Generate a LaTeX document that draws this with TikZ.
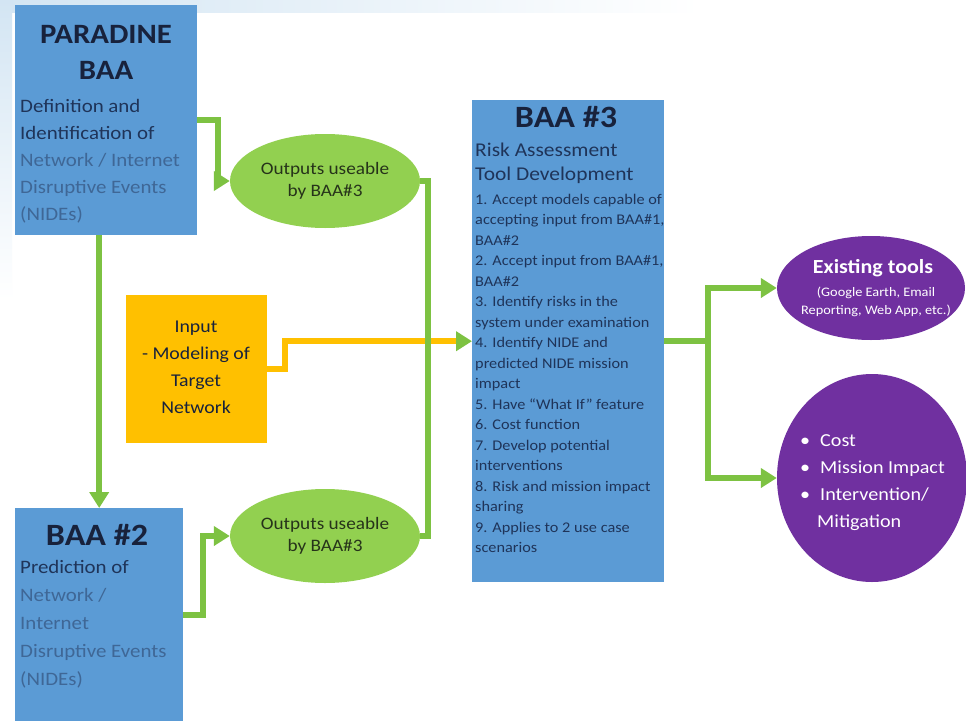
\documentclass[tikz,border=0pt]{standalone}
\usepackage{fontspec}
\setmainfont[FakeStretch=1.1]{Carlito}
\usetikzlibrary{shapes.geometric,arrows.meta,calc}
\definecolor{boxblue}{HTML}{5B9BD5}
\definecolor{navy}{HTML}{18223C}
\definecolor{dnavy}{HTML}{1F3459}
\definecolor{fadeblue}{HTML}{3F6796}
\definecolor{lgreen}{HTML}{92D050}
\definecolor{gline}{HTML}{7DC242}
\definecolor{orng}{HTML}{FFC000}
\definecolor{purp}{HTML}{7030A0}
\definecolor{skyb}{HTML}{D3E5F3}
\definecolor{ovtext}{HTML}{26331A}
\begin{document}
\begin{tikzpicture}[x=1pt,y=-1pt,
  bluebox/.style={draw=none,fill=boxblue,minimum width=#1,inner sep=0pt},
  greenov/.style={ellipse,fill=lgreen,minimum width=190pt,minimum height=94pt,inner sep=0pt},
  purpov/.style={ellipse,fill=purp,inner sep=0pt},
  glink/.style={draw=gline,line width=6pt,line join=miter},
  garrow/.style={glink,-{Triangle[length=16pt,width=19pt]}},
  olink/.style={draw=orng,line width=6pt,line join=miter},
  ttl/.style={font=\fontsize{28}{30}\selectfont\bfseries,text=navy,inner sep=0pt},
  body/.style={font=\fontsize{19}{27}\selectfont,inner sep=0pt,align=left,anchor=north west},
]
\useasboundingbox (0,0) rectangle (966,720);
\fill[white] (0,0) rectangle (966,720);
\shade[left color=skyb,right color=white] (0,0) rectangle (700,12);
\shade[top color=skyb,bottom color=white] (0,0) rectangle (12,300);

% boxes
\node[bluebox=182pt,minimum height=230pt,anchor=north west] (par) at (15,5) {};
\node[bluebox=168pt,minimum height=214pt,anchor=north west] (b2) at (15,508) {};
\node[bluebox=192pt,minimum height=482pt,anchor=north west] (b3) at (472,100) {};
\node[fill=orng,minimum width=141pt,minimum height=148pt,inner sep=0pt,anchor=north west] (inp) at (126,295) {};
\node[greenov] (out1) at (325,181) {};
\node[greenov] (out2) at (325,536) {};
\node[purpov,minimum width=188pt,minimum height=104pt] (ex) at (871,288) {};
\node[purpov,minimum width=190pt,minimum height=208pt] (ci) at (872,478) {};

% PARADINE text
\node[ttl] (parT1) at (106,34) {PARADINE};
\node[ttl] (parT2) at (106,70) {BAA};
\node[body,text=dnavy] (parB1) at (20,99) {Definition and\\Identification of};
\node[body,text=fadeblue] (parB2) at (20,153) {Network / Internet\\Disruptive Events\\(NIDEs)};

% BAA #2 text
\node[ttl,font=\fontsize{31}{32}\selectfont\bfseries] (b2T) at (97,535) {BAA \#2};
\node[body,text=dnavy] (b2B1) at (20,560) {Prediction of};
\node[body,text=fadeblue,font=\fontsize{19}{28}\selectfont] (b2B2) at (20,588) {Network /\\Internet\\Disruptive Events\\(NIDEs)};

% Input text
\node[font=\fontsize{18}{27}\selectfont,text=navy,align=center,inner sep=0pt] (inpT) at (196,367) {Input\\- Modeling of\\Target\\Network};

% ellipse texts
\node[font=\fontsize{17.5}{22}\selectfont,text=ovtext,align=center,inner sep=0pt] (o1T) at (out1) {Outputs useable\\by BAA\#3};
\node[font=\fontsize{17.5}{22}\selectfont,text=ovtext,align=center,inner sep=0pt] (o2T) at (out2) {Outputs useable\\by BAA\#3};

% BAA #3 text
\node[ttl,font=\fontsize{31}{32}\selectfont\bfseries] (b3T) at (566,117) {BAA \#3};
\node[font=\fontsize{19.5}{20}\selectfont,text=dnavy,anchor=west,inner sep=0pt] (b3S1) at (475,150) {Risk Assessment};
\node[font=\fontsize{19.5}{22}\selectfont,text=dnavy,anchor=west,inner sep=0pt] (b3S2) at (475,175) {Tool Development};
\node[font=\fontsize{14.8}{20.5}\selectfont,text=dnavy,anchor=north west,align=left,inner sep=0pt] (b3L) at (475,194) {1. Accept models capable of\\accepting input from BAA\#1,\\BAA\#2\\2. Accept input from BAA\#1,\\BAA\#2\\3. Identify risks in the\\system under examination\\4. Identify NIDE and\\predicted NIDE mission\\impact\\5. Have ``What If'' feature\\6. Cost function\\7. Develop potential\\interventions\\8. Risk and mission impact\\sharing\\9. Applies to 2 use case\\scenarios};

% purple texts
\node[font=\fontsize{20}{22}\selectfont\bfseries,text=white,inner sep=0pt] (exT) at (873,268) {Existing tools};
\node[font=\fontsize{13}{18}\selectfont,text=white,align=center,inner sep=0pt] (exS) at (876,302) {(Google Earth, Email\\Reporting, Web App, etc.)};
\node[font=\fontsize{18.3}{27}\selectfont,text=white,align=left,anchor=north west,inner sep=0pt] (ciT) at (800,434)
 {\textbullet\hspace{10pt}Cost\\\textbullet\hspace{10pt}Mission Impact\\\textbullet\hspace{10pt}Intervention/\\\hspace{17pt}Mitigation};

% connectors
\draw[garrow] (par.east) -- ++(21,0) |- (out1.west);
\draw[garrow] (b2.east) -- ++(20,0) |- (out2.west);
\draw[garrow] (b2.north |- par.south) -- (b2.north);
\draw[garrow] ([xshift=5]out1.east |- b3.west) -- (b3.west);
\draw[olink] (inp.east) -- ++(18,0) |- ([xshift=-16]b3.west);
\draw[glink] (out1.east) -- ++(8,0) |- (out2.east);
\draw[glink] (b3.east) -- ++(44,0) coordinate (br);
\draw[garrow] (br) |- (ex.west);
\draw[garrow] (br) |- (ci.west);
\end{tikzpicture}
\end{document}
